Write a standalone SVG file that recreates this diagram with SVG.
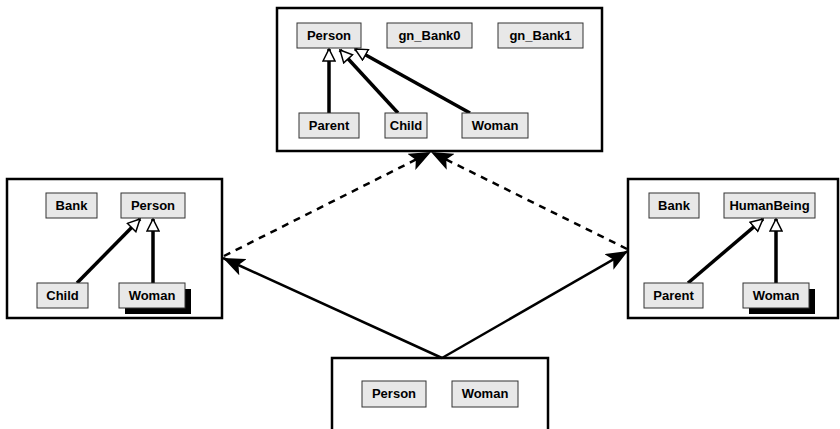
<svg xmlns="http://www.w3.org/2000/svg" width="840" height="429" viewBox="0 0 840 429">
<style>
.frame{fill:#fff;stroke:#000;stroke-width:2.5}
.node rect.b{fill:#e8e8e8;stroke:#333;stroke-width:1}
.node rect.sh{fill:#000}
.node text{font-family:"Liberation Sans",Arial,sans-serif;font-weight:bold;font-size:13px;text-anchor:middle;fill:#000}
.inh{stroke:#000;stroke-width:3.5;fill:none;marker-end:url(#hollow)}
.dep{stroke:#000;stroke-width:2.5;fill:none;marker-end:url(#filled)}
.dash{stroke-dasharray:7,6}
</style>
<defs>
<marker id="hollow" markerUnits="userSpaceOnUse" viewBox="0 0 14 14" refX="13" refY="7" markerWidth="14" markerHeight="14" orient="auto">
<path d="M1,1 L13,7 L1,13 Z" fill="#fff" stroke="#000" stroke-width="1.5"/>
</marker>
<marker id="filled" markerUnits="userSpaceOnUse" viewBox="0 0 22 18" refX="22" refY="9" markerWidth="22" markerHeight="18" orient="auto">
<path d="M0,0 L22,9 L0,18 L5,9 Z" fill="#000" stroke="none"/>
</marker>
</defs>

<g id="frames">
<rect id="frame-top" class="frame" x="277" y="8" width="325" height="143"/>
<rect id="frame-left" class="frame" x="7" y="179" width="215" height="139"/>
<rect id="frame-right" class="frame" x="628" y="179" width="210" height="139"/>
<rect id="frame-bottom" class="frame" x="332" y="358" width="216" height="90"/>
</g>

<g id="connectors">
<line class="inh" x1="329" y1="113" x2="329" y2="49"/>
<line class="inh" x1="398" y1="113" x2="340" y2="50"/>
<line class="inh" x1="470" y1="113" x2="355" y2="49"/>
<line class="inh" x1="77" y1="283" x2="140" y2="219"/>
<line class="inh" x1="153" y1="283" x2="153" y2="219"/>
<line class="inh" x1="688" y1="283" x2="763" y2="219"/>
<line class="inh" x1="776" y1="283" x2="776" y2="219"/>
<line class="dep" x1="442" y1="358" x2="223" y2="258"/>
<line class="dep" x1="442" y1="358" x2="628" y2="251"/>
<line class="dep dash" x1="224" y1="256" x2="431" y2="152"/>
<line class="dep dash" x1="627" y1="249" x2="431" y2="152"/>
</g>

<g id="top-Person" class="node"><rect class="b" x="297" y="23" width="64" height="25"/><text x="329" y="40">Person</text></g>
<g id="top-gn_Bank0" class="node"><rect class="b" x="387" y="23" width="85" height="25"/><text x="429.5" y="40">gn_Bank0</text></g>
<g id="top-gn_Bank1" class="node"><rect class="b" x="498" y="23" width="85" height="25"/><text x="540.5" y="40">gn_Bank1</text></g>
<g id="top-Parent" class="node"><rect class="b" x="299" y="113" width="60" height="25"/><text x="329" y="130">Parent</text></g>
<g id="top-Child" class="node"><rect class="b" x="385" y="113" width="42" height="25"/><text x="406" y="130">Child</text></g>
<g id="top-Woman" class="node"><rect class="b" x="462" y="113" width="66" height="25"/><text x="495" y="130">Woman</text></g>

<g id="left-Bank" class="node"><rect class="b" x="46" y="193" width="51" height="25"/><text x="71.5" y="210">Bank</text></g>
<g id="left-Person" class="node"><rect class="b" x="121" y="193" width="64" height="25"/><text x="153" y="210">Person</text></g>
<g id="left-Child" class="node"><rect class="b" x="37" y="283" width="51" height="25"/><text x="62.5" y="300">Child</text></g>
<g id="left-Woman" class="node"><rect class="sh" x="125" y="289" width="66" height="25"/><rect class="b" x="119" y="283" width="66" height="25"/><text x="152" y="300">Woman</text></g>

<g id="right-Bank" class="node"><rect class="b" x="649" y="193" width="50" height="25"/><text x="674" y="210">Bank</text></g>
<g id="right-HumanBeing" class="node"><rect class="b" x="724" y="193" width="91" height="25"/><text x="769.5" y="210">HumanBeing</text></g>
<g id="right-Parent" class="node"><rect class="b" x="644" y="283" width="59" height="25"/><text x="673.5" y="300">Parent</text></g>
<g id="right-Woman" class="node"><rect class="sh" x="749" y="289" width="66" height="25"/><rect class="b" x="743" y="283" width="66" height="25"/><text x="776" y="300">Woman</text></g>

<g id="bottom-Person" class="node"><rect class="b" x="362" y="381" width="64" height="26"/><text x="394" y="398">Person</text></g>
<g id="bottom-Woman" class="node"><rect class="b" x="452" y="381" width="66" height="26"/><text x="485" y="398">Woman</text></g>
</svg>
